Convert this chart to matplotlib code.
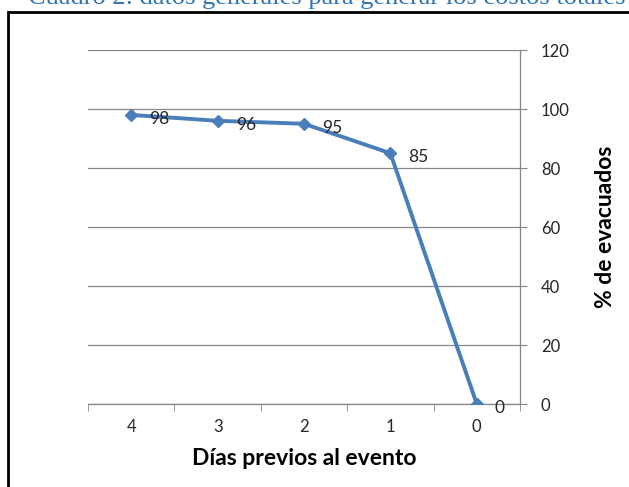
import matplotlib.pyplot as plt
from matplotlib.patches import Rectangle

days = ["4", "3", "2", "1", "0"]
evacuated = [98, 96, 95, 85, 0]
y_ticks = [0, 20, 40, 60, 80, 100, 120]

line_color = "#4a7ebb"
text_color = "#262626"

plt.rcParams["font.family"] = ["Lato", "DejaVu Sans"]

fig = plt.figure(figsize=(6.29, 4.87), dpi=100)
ax = fig.add_axes([0.1399, 0.1704, 0.6868, 0.7269])

xs = range(len(days))
ax.plot(xs, evacuated, color=line_color, linewidth=2.8, marker="D",
        markersize=6, zorder=3)
for x, v in zip(xs, evacuated):
    ax.annotate(str(v), (x, v), xytext=(13, -3), textcoords="offset points",
                ha="left", va="center", fontsize=12.5, color=text_color)

ax.set_xlim(-0.5, len(days) - 0.5)
ax.set_ylim(0, 120)
ax.set_xticks(xs)
ax.set_xticklabels(days)
ax.set_xticks([i - 0.5 for i in range(len(days) + 1)], minor=True)
ax.tick_params(axis="x", which="major", length=0, pad=11,
               labelsize=12, labelcolor=text_color)
ax.tick_params(axis="x", which="minor", length=5, direction="out",
               color="#868686")

ax.yaxis.tick_right()
ax.yaxis.set_label_position("right")
ax.set_yticks(y_ticks)
ax.tick_params(axis="y", length=5, direction="out", color="#868686",
               labelsize=12, labelcolor=text_color, pad=10)
ax.grid(axis="y", color="#868686", linewidth=0.9)
ax.set_axisbelow(True)

for side in ("left", "top"):
    ax.spines[side].set_visible(False)
for side in ("right", "bottom"):
    ax.spines[side].set_color("#868686")
    ax.spines[side].set_linewidth(0.9)

ax.set_xlabel("Días previos al evento", fontsize=16.5, fontweight="bold",
              color="black", labelpad=9)
ax.set_ylabel("% de evacuados", fontsize=16.5, fontweight="bold",
              color="black", labelpad=18)

fig.text(0.52, 1 - 4 / 487, "Cuadro 2: datos generales para generar los costos totales",
         ha="center", va="baseline", fontsize=19, color="#2e74b5",
         family="Liberation Serif")
fig.patches.append(Rectangle((8 / 629, -0.05), 1.0, 1 - 12 / 487 + 0.05,
                             transform=fig.transFigure, fill=False,
                             edgecolor="black", linewidth=2))

fig.savefig("out.png", dpi=100)
